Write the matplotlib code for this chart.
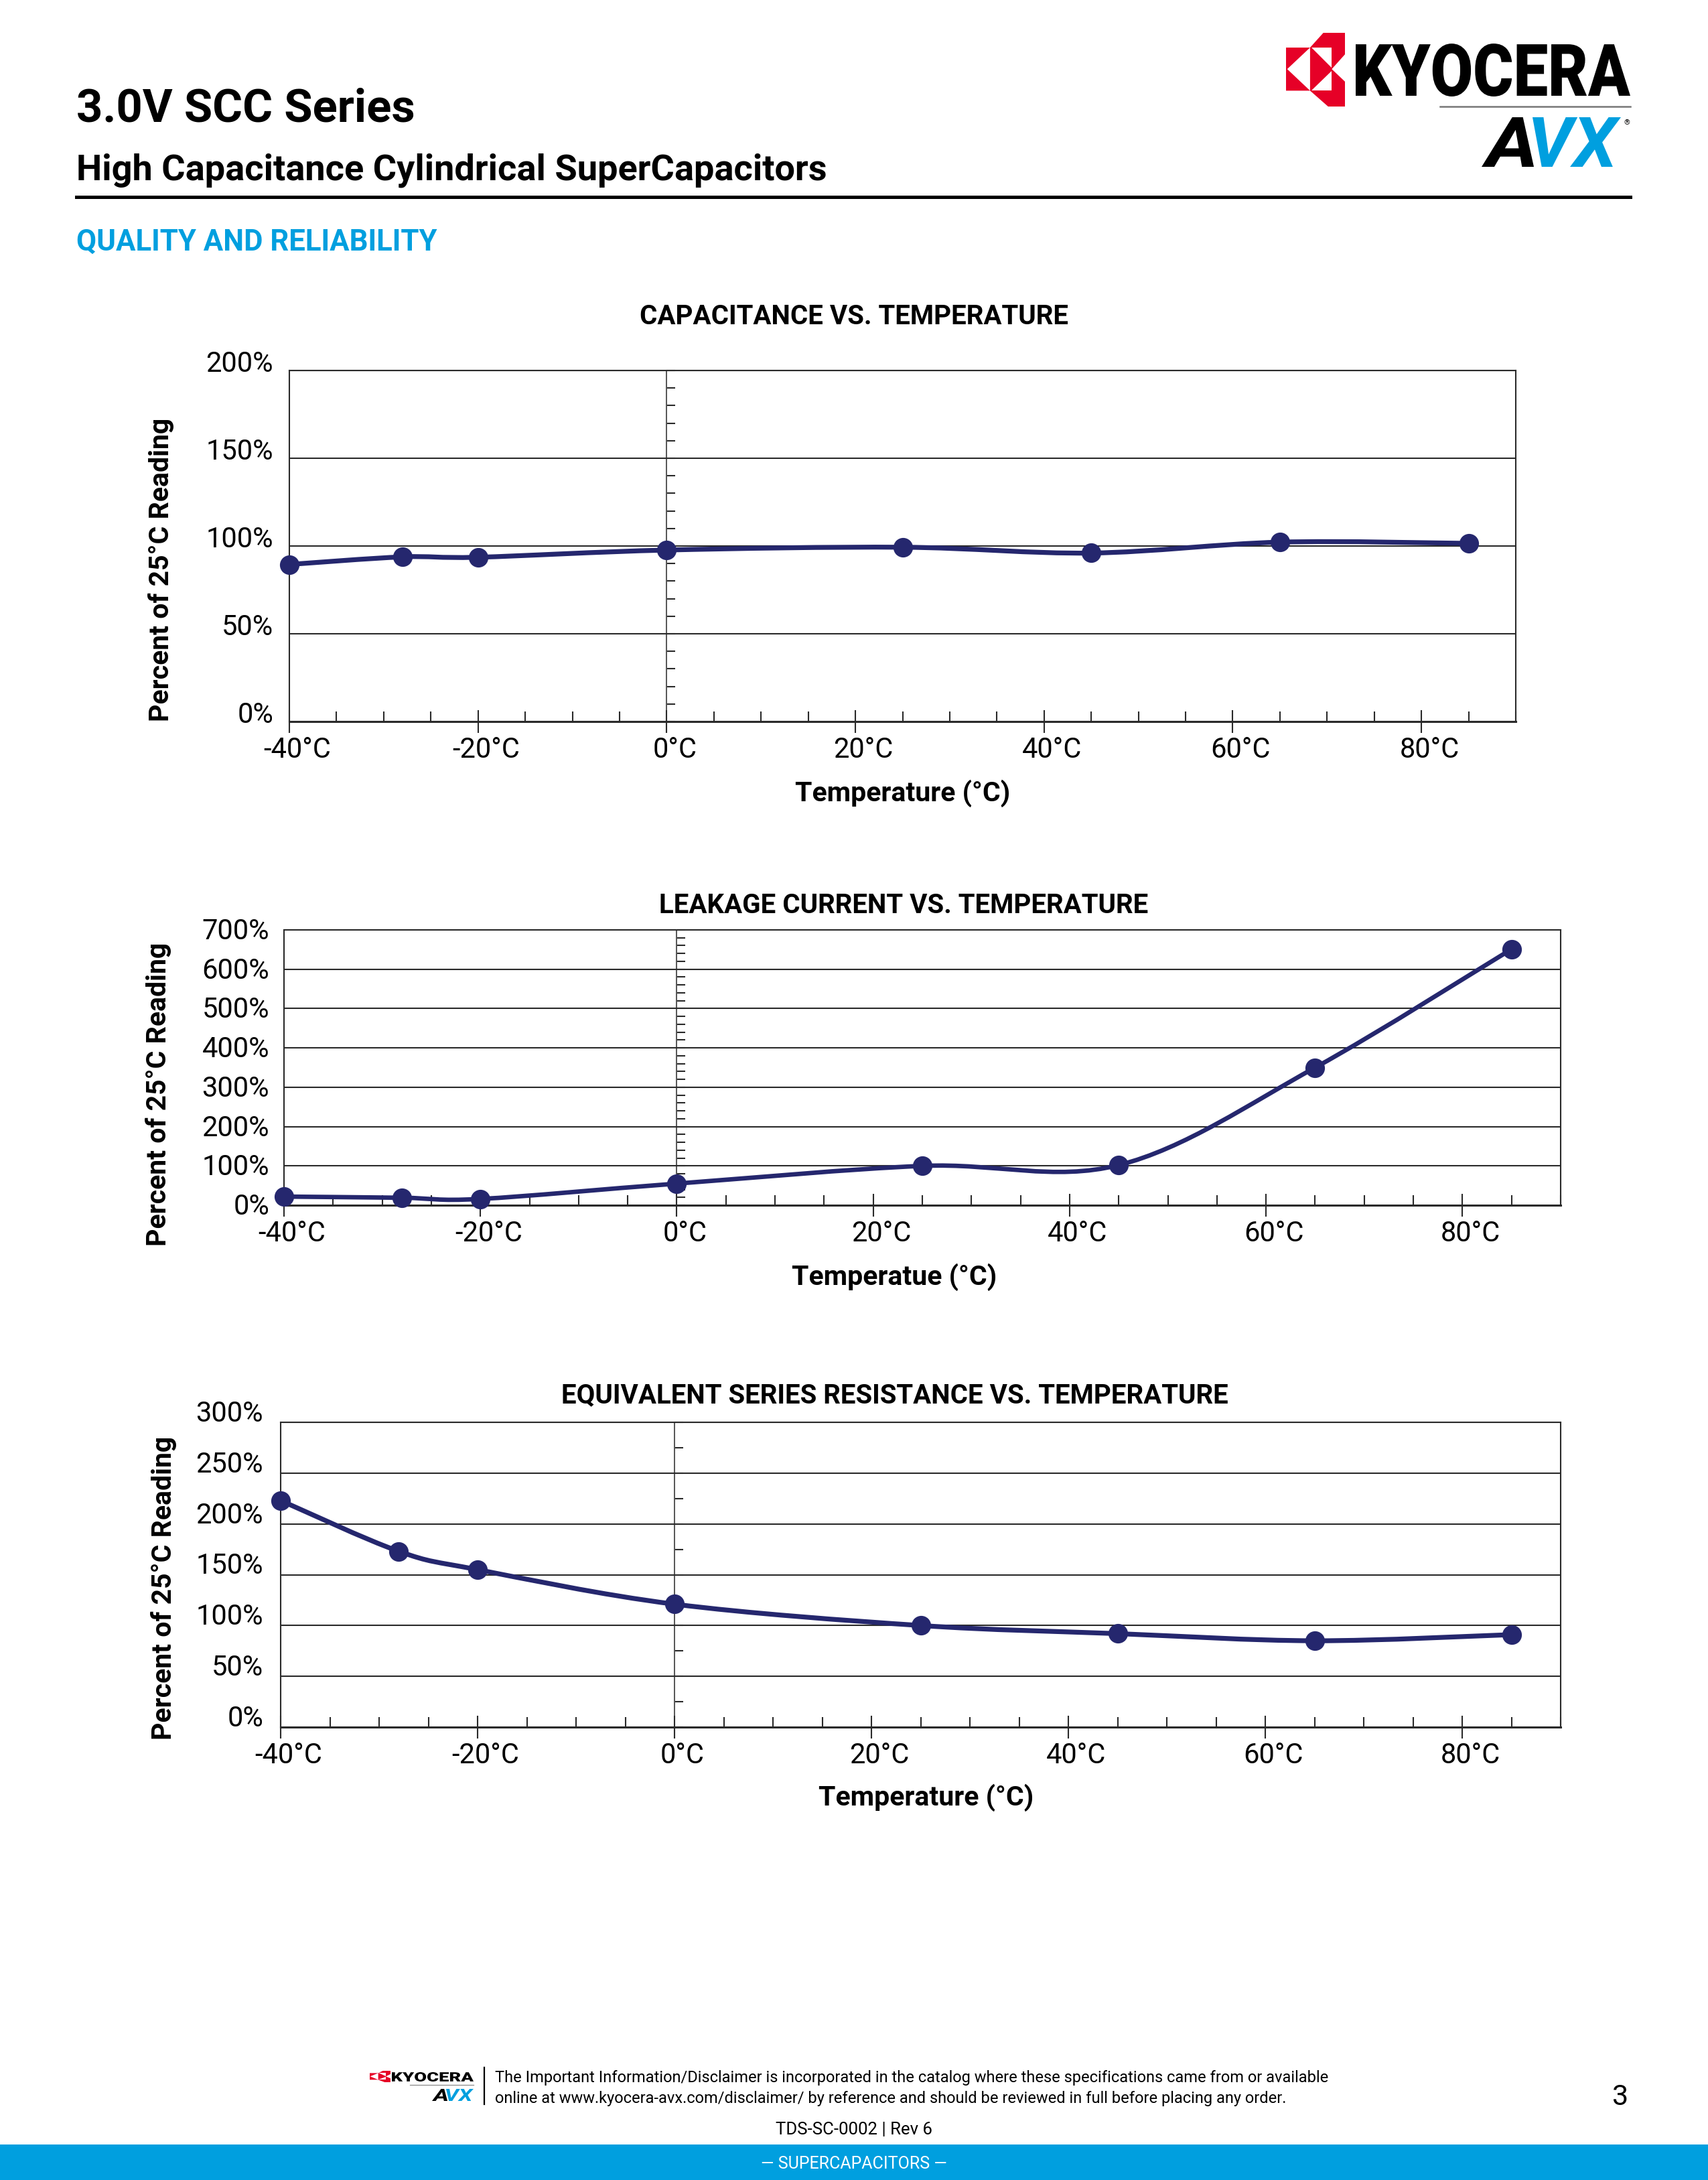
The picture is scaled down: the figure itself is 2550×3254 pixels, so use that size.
"""3.0V SCC 데이터시트 3쪽 — 온도 특성 그래프 세 개를 한 장으로 다시 그린다."""

import matplotlib
matplotlib.use("Agg")  # 화면 없이 PNG로만 저장
import matplotlib.pyplot as plt
import numpy as np
from matplotlib.font_manager import FontProperties
from matplotlib.patches import PathPatch, Polygon, Rectangle
from matplotlib.path import Path
from matplotlib.textpath import TextPath
from matplotlib.transforms import Affine2D, ScaledTranslation

W, H, DPI = 2550, 3255, 100

# ---- 데이터 ----
TEMPS = [-40, -28, -20, 0, 25, 45, 65, 85]
CAPACITANCE = [89.5, 93.8, 93.6, 97.7, 99.3, 96.0, 102.2, 101.5]
LEAKAGE = [22, 19, 16, 55, 100, 102, 350, 651]
ESR = [223, 173, 155, 121, 100, 92, 85, 91]

X_MAJOR = [-40, -20, 0, 20, 40, 60, 80]
X_LABELS = [f"{t}°C" for t in X_MAJOR]

CHART_TITLES = ["CAPACITANCE VS. TEMPERATURE",
                "LEAKAGE CURRENT VS. TEMPERATURE",
                "EQUIVALENT SERIES RESISTANCE VS. TEMPERATURE"]
X_TITLES = ["Temperature (°C)", "Temperatue (°C)", "Temperature (°C)"]
Y_TITLE = "Percent of 25°C Reading"

NAVY = "#25276e"
CYAN = "#009fdf"
GRID = "#2a2a2a"

plt.rcParams["font.family"] = ["Roboto", "DejaVu Sans"]

fig = plt.figure(figsize=(W / DPI, H / DPI), dpi=DPI)
fig.patch.set_facecolor("white")


def inch(x, y):
    """위에서 잰 픽셀 좌표 -> figure 인치 좌표."""
    return x / DPI, (H - y) / DPI


def fig_text(x, y, s, **kw):
    fig.text(x / W, 1 - y / H, s, **kw)


def fitted_word(text, box, color, weight="black", style="normal"):
    """글자 윤곽을 주어진 픽셀 상자에 꽉 맞춰 그린다(로고용)."""
    x0, y0, x1, y1 = box
    tp = TextPath((0, 0), text, size=100,
                  prop=FontProperties(family="Roboto", weight=weight, style=style))
    ext = tp.get_extents()
    tr = (Affine2D().translate(-ext.x0, -ext.y0)
          .scale((x1 - x0) / ext.width, (y1 - y0) / ext.height)
          .translate(x0, H - y1).scale(1 / DPI))
    fig.add_artist(PathPatch(tp, fc=color, ec="none", transform=tr + fig.dpi_scale_trans))


def emblem(x0, y0, w, h):
    """교세라 붉은 엠블럼 근사(빨간 외곽 + 흰 삼각형)."""
    red = [(0, .2), (.408, .2), (.633, 0), (1, 0), (1, .292), (.776, .492),
           (1, .662), (1, 1), (.714, 1), (.408, .785), (0, .785)]
    whites = [[(.02, .492), (.408, .2), (.408, .785)],
              [(.43, .2), (.776, .2), (.776, .47)],
              [(.43, .785), (.776, .785), (.776, .515)]]
    for pts, col in [(red, "#e60027")] + [(w_, "white") for w_ in whites]:
        verts = [inch(x0 + u * w, y0 + v * h) for u, v in pts]
        fig.add_artist(Polygon(verts, closed=True, fc=col, ec="none",
                               transform=fig.dpi_scale_trans))


def hline(x0, x1, y, lw, color):
    fig.add_artist(plt.Line2D([x0 / W, x1 / W], [1 - y / H] * 2, lw=lw, color=color))


def smooth_path(x, y):
    """엑셀식 부드러운 선: 각 구간을 Catmull-Rom 베지어로 잇는다."""
    pts = np.column_stack([x, y]).astype(float)
    n = len(pts)
    verts, codes = [pts[0]], [Path.MOVETO]
    for i in range(n - 1):
        p0, p1, p2, p3 = pts[max(i - 1, 0)], pts[i], pts[i + 1], pts[min(i + 2, n - 1)]
        verts += [p1 + (p2 - p0) / 6, p2 - (p3 - p1) / 6, p2]
        codes += [Path.CURVE4] * 3
    return Path(verts, codes)


# ---- 머리말 ----
fig_text(114, 181, "3.0V SCC Series", fontsize=49.5, fontweight="bold", va="baseline")
fig_text(114, 268, "High Capacitance Cylindrical SuperCapacitors", fontsize=39,
         fontweight="bold", va="baseline")
hline(114, 2434, 294.5, 3.6, "black")
fig_text(114, 374, "QUALITY AND RELIABILITY", fontsize=31.5, fontweight="bold",
         color=CYAN, va="baseline")

emblem(1920, 50, 88, 110)
fitted_word("KYOCERA", (2024, 66, 2434, 145), "black")
hline(2150, 2434, 160, 1.8, "#777777")
fitted_word("A", (2212, 176, 2290, 250), "black", weight="bold", style="italic")
fitted_word("VX", (2288, 176, 2420, 250), CYAN, weight="bold", style="italic")
fig_text(2429, 183, "®", fontsize=8, ha="center", va="center")

# ---- 그래프 세 개 ----
charts = [
    dict(values=CAPACITANCE, ymax=200, ystep=50, zstep=10, box=(432, 554, 2263, 1078),
         title_xy=(1275, 473), xlab_xy=(1348, 1184), ylab_xy=(241, 850),
         ylab_dy=0.15, ypad=24, lw=5.2),
    dict(values=LEAKAGE, ymax=700, ystep=100, zstep=20, box=(424, 1389, 2330, 1800),
         title_xy=(1349, 1352), xlab_xy=(1335, 1906), ylab_xy=(237, 1633),
         ylab_dy=0.03, ypad=22, lw=4.8),
    dict(values=ESR, ymax=300, ystep=50, zstep=25, box=(419, 2124, 2330, 2579),
         title_xy=(1336, 2083), xlab_xy=(1383, 2683), ylab_xy=(245, 2370),
         ylab_dy=0.18, ypad=26, lw=5.2),
]

for i, spec in enumerate(charts):
    l, t, r, b = spec["box"]
    ax = fig.add_axes([l / W, 1 - b / H, (r - l) / W, (b - t) / H])

    def frac(px, py):
        return (px - l) / (r - l), (b - py) / (b - t)

    ax.set_xlim(-40, 90)
    ax.set_ylim(0, spec["ymax"])

    # 가로 눈금선 + 왼쪽 퍼센트 라벨
    yt = np.arange(0, spec["ymax"] + 1, spec["ystep"])
    ax.set_yticks(yt, [f"{v}%" for v in yt])
    ax.grid(axis="y", color=GRID, lw=1.5)
    ax.tick_params(axis="y", length=0, pad=spec["ypad"] * 0.72, labelsize=30)
    for lab in ax.get_yticklabels():
        lab.set_transform(lab.get_transform()
                          + ScaledTranslation(0, spec["ylab_dy"], fig.dpi_scale_trans))

    # 아래 온도 눈금: 20도 주눈금은 축을 관통, 5도 보조눈금은 안쪽
    ax.set_xticks(X_MAJOR, X_LABELS)
    ax.set_xticks(np.arange(-40, 91, 5), minor=True)
    ax.tick_params(axis="x", which="major", direction="inout", length=24, width=1.5,
                   color=GRID, pad=3, labelsize=30)
    ax.tick_params(axis="x", which="minor", direction="in", length=11, width=1.5, color=GRID)
    for lab in ax.get_xticklabels():
        lab.set_transform(lab.get_transform()
                          + ScaledTranslation(0.12, 0, fig.dpi_scale_trans))

    for side, sp in ax.spines.items():
        sp.set_color(GRID)
        sp.set_linewidth(2.2 if side == "bottom" else 1.5)

    # 0도 세로선과 오른쪽 작은 눈금
    zero = ax.secondary_yaxis((0 - (-40)) / (90 - (-40)))
    zero.set_yticks(np.arange(0, spec["ymax"] + 1, spec["zstep"]))
    zero.tick_params(direction="in", length=9, width=1.5, color=GRID, labelleft=False)
    zero.spines["left"].set_color("#555555")
    zero.spines["left"].set_linewidth(1.4)

    # 데이터: 부드러운 곡선 + 원 마커
    ax.add_patch(PathPatch(smooth_path(TEMPS, spec["values"]), fill=False, ec=NAVY,
                           lw=spec["lw"], capstyle="round", joinstyle="round", zorder=4))
    ax.plot(TEMPS, spec["values"], "o", ms=20, color=NAVY, clip_on=False, zorder=5)

    tx, ty = frac(*spec["title_xy"])
    ax.text(tx, ty, CHART_TITLES[i], transform=ax.transAxes, ha="center", va="center",
            fontsize=29, fontweight="bold")
    ax.set_xlabel(X_TITLES[i], fontsize=29.5, fontweight="bold")
    ax.xaxis.set_label_coords(*frac(*spec["xlab_xy"]))
    ax.xaxis.label.set_va("center")
    ax.set_ylabel(Y_TITLE, fontsize=29.5, fontweight="bold")
    ax.yaxis.set_label_coords(*frac(*spec["ylab_xy"]))
    ax.yaxis.label.set_va("center")

# ---- 꼬리말 ----
emblem(552, 3092, 31, 17)
fitted_word("KYOCERA", (585, 3094, 707, 3108), "black")
hline(612, 707, 3113, 0.9, "#888888")
fitted_word("A", (645, 3119, 668, 3137), "black", weight="bold", style="italic")
fitted_word("VX", (666, 3119, 707, 3137), CYAN, weight="bold", style="italic")
fig.add_artist(plt.Line2D([723 / W] * 2, [1 - 3087 / H, 1 - 3142 / H], lw=1.6, color="black"))
fig_text(739, 3102, "The Important Information/Disclaimer is incorporated in the catalog "
         "where these specifications came from or available", fontsize=17, va="center")
fig_text(739, 3133, "online at www.kyocera-avx.com/disclaimer/ by reference and should be "
         "reviewed in full before placing any order.", fontsize=17, va="center")
fig_text(2419, 3131, "3", fontsize=31, ha="center", va="center")
fig_text(1275, 3179, "TDS-SC-0002 | Rev 6", fontsize=18.5, ha="center", va="center")
fig.add_artist(Rectangle(inch(0, H), W / DPI, (H - 3202) / DPI, fc=CYAN, ec="none",
                         transform=fig.dpi_scale_trans))
fig_text(1275, 3230, "— SUPERCAPACITORS —", fontsize=18, color="white",
         ha="center", va="center")

fig.savefig("out.png", dpi=DPI, facecolor="white")
